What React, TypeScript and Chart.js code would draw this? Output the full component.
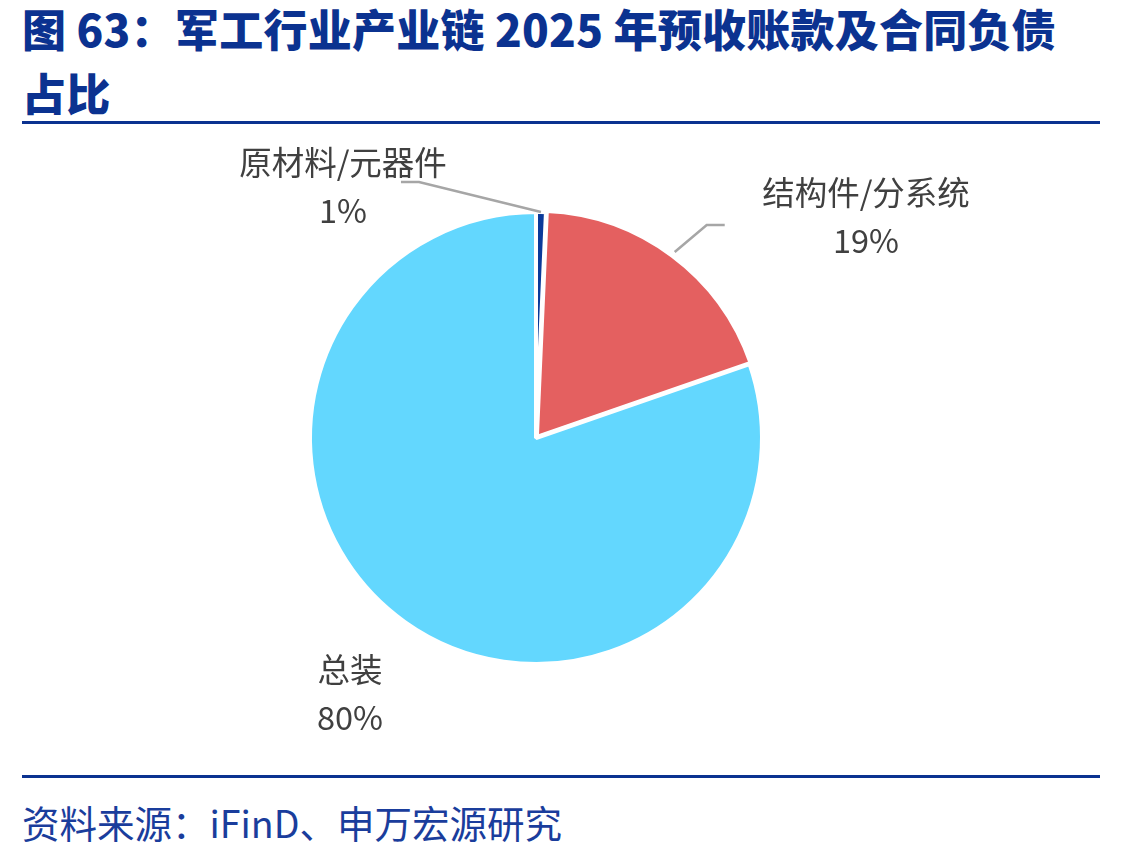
import React, { useEffect, useRef } from "react";
import { Chart, registerables } from "chart.js";

Chart.register(...registerables);

const categories = ["原材料/元器件", "结构件/分系统", "总装"];
const shares = [0.7, 19.0, 80.3];
const sliceColors = ["#0A3A9A", "#E46060", "#63D7FE"];
const sliceOffsets = [0, 6, 0];

// label layout (relative to pie centre), leader line elbows (relative to slice anchor)
const labelPos = [
  { tx: -193, ty: -275, line: { dx: -122, dy: -30, h: -18 } },
  { tx: 330, ty: -245, line: { dx: 32, dy: -27, h: 18 } },
  { tx: -186, ty: 232, line: null },
];

const labelPlugin = {
  id: "pieLabels",
  afterDatasetsDraw(chart: any) {
    const ctx = chart.ctx;
    const meta = chart.getDatasetMeta(0);
    const data = chart.data.datasets[0].data as number[];
    const total = data.reduce((a, b) => a + b, 0);
    meta.data.forEach((arc: any, i: number) => {
      const p = arc.getProps(["x", "y", "startAngle", "endAngle", "outerRadius"], true);
      const mid = (p.startAngle + p.endAngle) / 2;
      const off = sliceOffsets[i] || 0;
      const r = p.outerRadius + off;
      const ax = p.x + Math.cos(mid) * r;
      const ay = p.y + Math.sin(mid) * r;
      const cfg = labelPos[i];
      ctx.save();
      if (cfg.line) {
        ctx.strokeStyle = "#A6A6A6";
        ctx.lineWidth = 2.5;
        ctx.beginPath();
        ctx.moveTo(ax, ay);
        const ex = ax + cfg.line.dx;
        const ey = ay + cfg.line.dy;
        ctx.lineTo(ex, ey);
        ctx.lineTo(ex + cfg.line.h, ey);
        ctx.stroke();
      }
      ctx.fillStyle = "#404040";
      ctx.font = '32.5px "Noto Sans CJK SC", "Noto Sans", sans-serif';
      ctx.textAlign = "center";
      ctx.textBaseline = "middle";
      const cx = p.x + cfg.tx;
      const cy = p.y + cfg.ty;
      ctx.fillText(categories[i], cx, cy);
      ctx.fillText(Math.round((data[i] / total) * 100) + "%", cx, cy + 48);
      ctx.restore();
    });
  },
};

export default function App() {
  const ref = useRef<HTMLCanvasElement | null>(null);
  useEffect(() => {
    document.body.style.margin = "0";
    const chart = new Chart(ref.current as HTMLCanvasElement, {
      type: "pie",
      data: {
        labels: categories,
        datasets: [
          {
            data: shares,
            backgroundColor: sliceColors,
            borderColor: "#FFFFFF",
            borderWidth: 4,
            offset: sliceOffsets,
          } as any,
        ],
      },
      options: {
        responsive: false,
        animation: false,
        radius: 226,
        layout: { padding: { left: 0, right: 72, top: 0, bottom: 24 } },
        plugins: {
          legend: { display: false },
          tooltip: { enabled: false },
        },
      } as any,
      plugins: [labelPlugin],
    });
    return () => chart.destroy();
  }, []);

  const blue = "#0B3290";
  return (
    <div style={{ position: "absolute", left: 0, top: 0, width: 1144, height: 854, background: "#fff", overflow: "hidden" }}>
      <div
        style={{
          position: "absolute",
          left: 22,
          top: -4,
          width: 1100,
          fontFamily: '"Noto Sans CJK SC", sans-serif',
          fontWeight: 900,
          fontSize: 44,
          letterSpacing: "0.25px",
          lineHeight: "64px",
          color: blue,
          whiteSpace: "nowrap",
        }}
      >
        <div>图 63：军工行业产业链 2025 年预收账款及合同负债</div>
        <div>占比</div>
      </div>
      <div style={{ position: "absolute", left: 22, top: 121, width: 1078, height: 3, background: "#0B3290" }} />
      <canvas ref={ref} width={1144} height={640} style={{ position: "absolute", left: 0, top: 130 }} />
      <div style={{ position: "absolute", left: 22, top: 775, width: 1078, height: 3, background: "#0B3290" }} />
      <div
        style={{
          position: "absolute",
          left: 22,
          top: 797,
          fontFamily: '"Noto Sans CJK SC", sans-serif',
          fontSize: 37.5,
          lineHeight: "50px",
          color: "#1A3D9C",
          whiteSpace: "nowrap",
        }}
      >
        资料来源：iFinD、申万宏源研究
      </div>
    </div>
  );
}
